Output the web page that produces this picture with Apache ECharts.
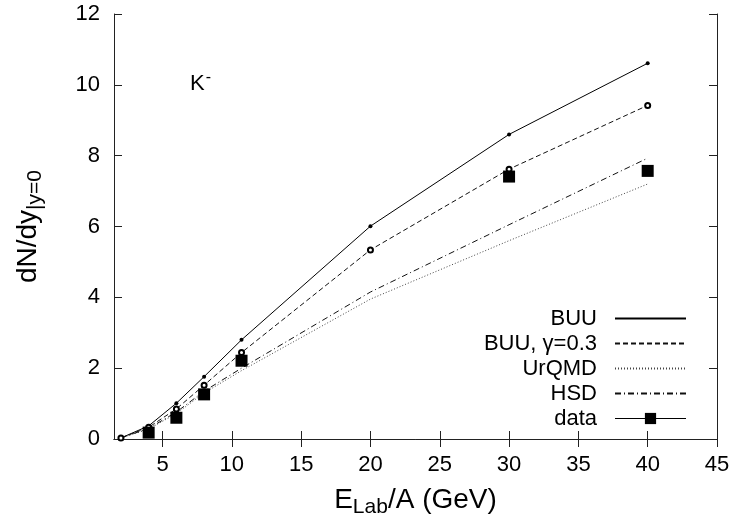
<!DOCTYPE html>
<html>
<head>
<meta charset="utf-8">
<script src="https://cdn.jsdelivr.net/npm/echarts@6/dist/echarts.min.js"></script>
<style>html,body{margin:0;padding:0;background:#fff}#c{width:736px;height:527px}</style>
</head>
<body>
<div id="c"></div>
<script>
// Beam energies (GeV/A)
var energies = [2, 4, 6, 8, 10.7, 20, 30, 40];
var buu      = [0.03, 0.37, 1.01, 1.76, 2.80, 6.01, 8.60, 10.61];
var buuGamma = [0.03, 0.33, 0.85, 1.52, 2.44, 5.34, 7.62, 9.42];
var urqmd    = [0.03, 0.28, 0.72, 1.30, 1.93, 3.95, 5.60, 7.20];
var hsd      = [0.03, 0.30, 0.76, 1.35, 2.00, 4.15, 6.05, 7.93];
var dataE    = [4, 6, 8, 10.7, 30, 40];
var dataY    = [0.18, 0.60, 1.26, 2.21, 7.41, 7.57];
var xTicks   = [5, 10, 15, 20, 25, 30, 35, 40, 45];
var seriesNames = ['BUU', 'BUU, \u03b3=0.3', 'UrQMD', 'HSD', 'data'];

function pairs(xs, ys) { return xs.map(function (x, i) { return [x, ys[i]]; }); }

var FONT = 'Liberation Sans';
var chart = echarts.init(document.getElementById('c'), null, {renderer: 'canvas'});
var axisLineStyle = {color: '#222', width: 1};
var option = {
  animation: false,
  backgroundColor: '#fff',
  textStyle: {fontFamily: FONT, color: '#000'},
  title: {
    text: '{k|K}{s|-}',
    left: 190, top: 70, padding: 0,
    textStyle: {
      fontWeight: 'normal',
      rich: {
        k: {fontFamily: FONT, fontSize: 22, fontWeight: 'normal', color: '#000'},
        s: {fontFamily: FONT, fontSize: 16, fontWeight: 'normal', color: '#000', padding: [0, 0, 12, 1]}
      }
    }
  },
  grid: {left: 114, top: 14, right: 19, bottom: 88, containLabel: false},
  legend: {
    orient: 'vertical',
    right: 49, top: 306,
    align: 'right',
    padding: 0,
    itemWidth: 71, itemHeight: 14, itemGap: 0,
    textStyle: {fontFamily: FONT, fontSize: 22, lineHeight: 25, color: '#000', padding: [0, 13, 0, 0]},
    data: [
      {name: seriesNames[0], itemStyle: {opacity: 0}},
      {name: seriesNames[1], itemStyle: {opacity: 0}},
      {name: seriesNames[2], itemStyle: {opacity: 0}},
      {name: seriesNames[3], itemStyle: {opacity: 0}},
      {name: seriesNames[4], lineStyle: {opacity: 1, width: 1, color: '#000', type: 'solid'}}
    ]
  },
  xAxis: [{
    type: 'value', min: 1.5, max: 45,
    position: 'bottom',
    axisLine: {show: true, lineStyle: axisLineStyle},
    axisTick: {show: true, inside: true, length: 8, customValues: xTicks, lineStyle: axisLineStyle},
    axisLabel: {customValues: xTicks, fontFamily: FONT, fontSize: 22, color: '#000', margin: 15},
    splitLine: {show: false},
    name: '{m|E}{s|Lab}{m|/A (GeV)}',
    nameLocation: 'middle', nameGap: 44,
    nameTextStyle: {
      rich: {
        m: {fontFamily: FONT, fontSize: 28, color: '#000'},
        s: {fontFamily: FONT, fontSize: 21, color: '#000', padding: [14, 0, 0, 0]}
      }
    }
  }, {
    type: 'value', min: 1.5, max: 45,
    position: 'top',
    axisLine: {show: true, lineStyle: axisLineStyle},
    axisTick: {show: true, inside: true, length: 8, customValues: xTicks, lineStyle: axisLineStyle},
    axisLabel: {show: false},
    splitLine: {show: false}
  }],
  yAxis: [{
    type: 'value', min: 0, max: 12, interval: 2,
    position: 'left',
    axisLine: {show: true, lineStyle: axisLineStyle},
    axisTick: {show: true, inside: true, length: 8, lineStyle: axisLineStyle},
    axisLabel: {fontFamily: FONT, fontSize: 22, color: '#000', margin: 14},
    splitLine: {show: false},
    name: '{m|dN/dy}{s||y=0}',
    nameLocation: 'middle', nameGap: 68,
    nameTextStyle: {
      rich: {
        m: {fontFamily: FONT, fontSize: 28, color: '#000'},
        s: {fontFamily: FONT, fontSize: 21, color: '#000', padding: [14, 0, 0, 0]}
      }
    }
  }, {
    type: 'value', min: 0, max: 12, interval: 2,
    position: 'right',
    axisLine: {show: true, lineStyle: axisLineStyle},
    axisTick: {show: true, inside: true, length: 8, lineStyle: axisLineStyle},
    axisLabel: {show: false},
    splitLine: {show: false}
  }],
  series: [{
    name: seriesNames[0], type: 'line', data: pairs(energies, buu),
    symbol: 'circle', symbolSize: 4, showSymbol: true,
    lineStyle: {color: '#000', width: 1, type: 'solid'},
    itemStyle: {color: '#000'}
  }, {
    name: seriesNames[1], type: 'line', data: pairs(energies, buuGamma),
    symbol: 'emptyCircle', symbolSize: 5, showSymbol: true,
    lineStyle: {color: '#111', width: 1, type: [5, 3]},
    itemStyle: {color: '#000', borderColor: '#000', borderWidth: 1}
  }, {
    name: seriesNames[2], type: 'line', data: pairs(energies, urqmd),
    symbol: 'none',
    lineStyle: {color: '#444', width: 1, type: [1, 2]}
  }, {
    name: seriesNames[3], type: 'line', data: pairs(energies, hsd),
    symbol: 'none',
    lineStyle: {color: '#111', width: 1, type: [6, 3, 1, 3]}
  }, {
    name: seriesNames[4], type: 'line', data: pairs(dataE, dataY),
    symbol: 'rect', symbolSize: 12, showSymbol: true,
    lineStyle: {opacity: 0, width: 0},
    itemStyle: {color: '#000'},
    z: 5
  }]
};
chart.setOption(option);
</script>
</body>
</html>
